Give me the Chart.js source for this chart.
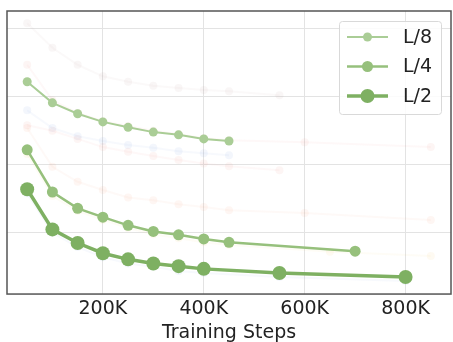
<!DOCTYPE html>
<html>
<head>
<meta charset="utf-8">
<script src="https://cdn.jsdelivr.net/npm/chart.js@4"></script>
<style>
  html, body { margin: 0; padding: 0; background: #fff; }
  #wrap { width: 453px; height: 342px; }
</style>
</head>
<body>
<div id="wrap"><canvas id="stepsChart" width="453" height="342"></canvas></div>
<script>
// training steps (K) for each run
const stepsL8 = [50, 100, 150, 200, 250, 300, 350, 400, 450];
const stepsL4 = [50, 100, 150, 200, 250, 300, 350, 400, 450, 700];
const stepsL2 = [50, 100, 150, 200, 250, 300, 350, 400, 550, 800];

// metric values (no axis labels shown)
const valuesL8 = [32.1, 29.0, 27.4, 26.2, 25.4, 24.7, 24.3, 23.7, 23.4];
const valuesL4 = [22.1, 15.9, 13.5, 12.2, 11.0, 10.1, 9.6, 9.0, 8.5, 7.2];
const valuesL2 = [16.3, 10.4, 8.4, 6.9, 6.0, 5.4, 5.0, 4.6, 4.0, 3.4];

// faded background runs
const stepsShortA = [50, 100, 150, 200, 250, 300, 350, 400, 450, 550];
const stepsLongA = [50, 100, 150, 200, 250, 300, 350, 400, 450, 600, 850];
const stepsBlue = [50, 100, 150, 200, 250, 300, 350, 400, 450];
const stepsBlueLong = [50, 100, 150, 200, 250, 300, 350, 400, 550, 800];
const stepsYellow = [50, 100, 150, 200, 250, 300, 350, 400, 450, 650, 850];
const fadedTop = [40.7, 37.1, 34.6, 32.9, 32.1, 31.5, 31.2, 30.9, 30.7, 30.1];
const fadedUpper = [34.6, 29.4, 27.5, 26.3, 25.6, 24.9, 24.4, 23.8, 23.5, 23.2, 22.5];
const fadedMid = [25.7, 24.9, 23.7, 22.5, 21.8, 21.2, 20.6, 20.1, 19.7, 19.1];
const fadedLower = [25.3, 19.6, 17.4, 16.2, 15.1, 14.7, 14.1, 13.7, 13.2, 12.8, 11.8];
const fadedBlue = [27.9, 25.3, 24.1, 23.4, 22.8, 22.4, 21.9, 21.6, 21.3];
const fadedBlueLow = [15.7, 9.9, 7.8, 6.3, 5.4, 4.9, 4.3, 4.0, 3.4, 2.8];
const fadedYellow = [21.5, 15.3, 13.1, 11.8, 10.6, 9.7, 9.1, 8.5, 8.1, 7.1, 6.5];

const xTicks = [200, 400, 600, 800];
const yGrid = [10, 20, 30, 40];

function pts(xs, ys) {
    return xs.map((x, i) => ({ x: x, y: ys[i] }));
}

function faded(xs, ys, rgb) {
    return {
        label: '',
        data: pts(xs, ys),
        borderColor: 'rgba(' + rgb + ',0.06)',
        backgroundColor: 'rgba(' + rgb + ',0.09)',
        pointBackgroundColor: 'rgba(' + rgb + ',0.09)',
        pointBorderWidth: 0,
        borderWidth: 2,
        pointRadius: 4,
        order: 10,
        faded: true
    };
}

function mainRun(label, xs, ys, color, lw, r) {
    return {
        label: label,
        data: pts(xs, ys),
        borderColor: color,
        backgroundColor: color,
        pointBackgroundColor: color,
        pointBorderWidth: 0,
        borderWidth: lw,
        pointRadius: r,
        order: 1
    };
}

// legend drawn inside the plot, top right (matplotlib style)
const innerLegend = {
    id: 'innerLegend',
    afterDatasetsDraw(chart) {
        const ctx = chart.ctx;
        const items = chart.data.datasets.filter(d => !d.faded);
        const bx = 339, by = 21, bw = 102, bh = 93;
        ctx.save();
        ctx.fillStyle = 'rgba(255,255,255,0.85)';
        ctx.strokeStyle = '#d9d9d9';
        ctx.lineWidth = 1;
        ctx.beginPath();
        ctx.roundRect(bx + 0.5, by + 0.5, bw, bh, 3);
        ctx.fill();
        ctx.stroke();
        items.forEach((d, i) => {
            const y = 37 + i * 29.5;
            ctx.strokeStyle = d.borderColor;
            ctx.lineWidth = d.borderWidth;
            ctx.beginPath();
            ctx.moveTo(347, y);
            ctx.lineTo(388, y);
            ctx.stroke();
            ctx.fillStyle = d.pointBackgroundColor;
            ctx.beginPath();
            ctx.arc(367.5, y, d.pointRadius, 0, Math.PI * 2);
            ctx.fill();
            ctx.fillStyle = '#222';
            ctx.font = '19px "DejaVu Sans"';
            ctx.textBaseline = 'middle';
            ctx.textAlign = 'left';
            ctx.fillText(d.label, 403, y + 1);
        });
        ctx.restore();
    }
};

// dark frame round the plot area
const frame = {
    id: 'frame',
    afterDraw(chart) {
        const a = chart.chartArea;
        const ctx = chart.ctx;
        ctx.save();
        ctx.strokeStyle = '#555';
        ctx.lineWidth = 1.5;
        ctx.strokeRect(a.left, a.top, a.right - a.left, a.bottom - a.top);
        ctx.restore();
    }
};

const ctx = document.getElementById('stepsChart').getContext('2d');
new Chart(ctx, {
    type: 'line',
    data: {
        datasets: [
            mainRun('L/8', stepsL8, valuesL8, 'rgb(170,205,150)', 2, 4.5),
            mainRun('L/4', stepsL4, valuesL4, 'rgb(150,192,124)', 2.5, 5.5),
            mainRun('L/2', stepsL2, valuesL2, 'rgb(126,176,98)', 3.5, 7),
            faded(stepsShortA, fadedTop, '190,150,150'),
            faded(stepsLongA, fadedUpper, '235,140,130'),
            faded(stepsShortA, fadedMid, '235,140,130'),
            faded(stepsLongA, fadedLower, '240,150,120'),
            faded(stepsBlue, fadedBlue, '120,160,225'),
            faded(stepsBlueLong, fadedBlueLow, '120,160,225'),
            faded(stepsYellow, fadedYellow, '240,200,110')
        ]
    },
    options: {
        responsive: false,
        animation: false,
        layout: { autoPadding: false, padding: { left: 7, right: 2, top: 11, bottom: 1 } },
        plugins: {
            legend: { display: false },
            tooltip: { enabled: false }
        },
        scales: {
            x: {
                type: 'linear',
                min: 10,
                max: 890,
                afterBuildTicks: axis => { axis.ticks = xTicks.map(v => ({ value: v })); },
                afterFit: axis => { axis.paddingRight = 0; axis.paddingLeft = 0; },
                grid: { color: '#e3e3e3', lineWidth: 1, drawTicks: false },
                border: { display: false },
                ticks: {
                    padding: 4,
                    color: '#222',
                    font: { family: 'DejaVu Sans', size: 19 },
                    callback: v => v + 'K'
                },
                title: {
                    display: true,
                    text: 'Training Steps',
                    color: '#222',
                    font: { family: 'DejaVu Sans', size: 19, lineHeight: 0.85 },
                    padding: { top: 0, bottom: 0 }
                }
            },
            y: {
                min: 0.9,
                max: 42.5,
                afterBuildTicks: axis => { axis.ticks = yGrid.map(v => ({ value: v })); },
                afterFit: axis => { axis.paddingTop = 0; axis.paddingBottom = 0; },
                grid: { color: '#e3e3e3', lineWidth: 1, drawTicks: false },
                border: { display: false },
                ticks: { display: false }
            }
        }
    },
    plugins: [innerLegend, frame]
});
</script>
</body>
</html>
